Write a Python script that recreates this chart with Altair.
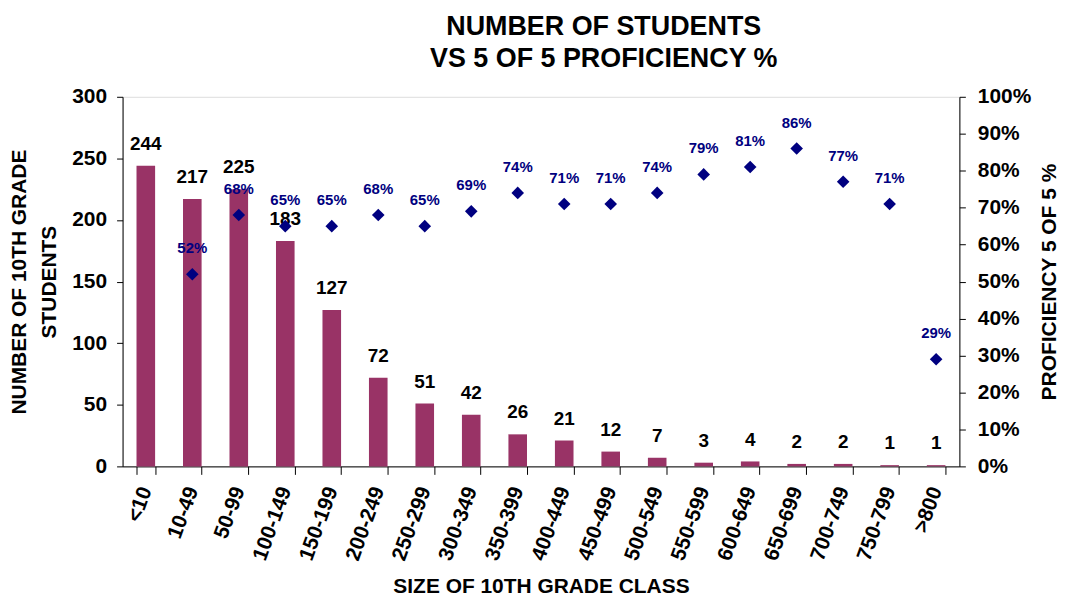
import altair as alt
import pandas as pd

categories = ["<10", "10-49", "50-99", "100-149", "150-199", "200-249", "250-299",
              "300-349", "350-399", "400-449", "450-499", "500-549", "550-599",
              "600-649", "650-699", "700-749", "750-799", ">800"]
students = [244, 217, 225, 183, 127, 72, 51, 42, 26, 21, 12, 7, 3, 4, 2, 2, 1, 1]
proficiency = [None, 0.52, 0.68, 0.65, 0.65, 0.68, 0.65, 0.69, 0.74, 0.71, 0.71,
               0.74, 0.79, 0.81, 0.86, 0.77, 0.71, 0.29]

df = pd.DataFrame({"cat": categories, "students": students, "prof": proficiency})
df["prof_label"] = df["prof"].apply(lambda v: "" if pd.isna(v) else f"{round(v*100)}%")

FONT = "Liberation Sans"

x = alt.X("cat:N", sort=categories, title="SIZE OF 10TH GRADE CLASS",
          scale=alt.Scale(paddingInner=0.6, paddingOuter=0.3),
          axis=alt.Axis(labelAngle=-70, labelAlign="right", labelBaseline="middle",
                        labelFont=FONT, labelFontSize=21, labelFontWeight="bold",
                        labelColor="black", labelPadding=13,
                        tickBand="extent", tickSize=8, tickColor="black",
                        domainColor="black", titleFont=FONT, titleFontSize=21,
                        titleFontWeight="bold", titleColor="black", titlePadding=13))

base = alt.Chart(df).encode(x=x)

y_left = alt.Y("students:Q", scale=alt.Scale(domain=[0, 300], nice=False),
               title=["NUMBER OF 10TH GRADE", "STUDENTS"],
               axis=alt.Axis(values=[0, 50, 100, 150, 200, 250, 300], grid=False,
                             labelFont=FONT, labelFontSize=21, labelFontWeight="bold",
                             labelColor="black", tickColor="black", domainColor="black",
                             tickSize=6, labelPadding=10,
                             titleFont=FONT, titleFontSize=21, titleFontWeight="bold",
                             titleColor="black", titlePadding=12, titleLineHeight=30))

bars = base.mark_bar(color="#993366").encode(y=y_left)
bar_text = base.mark_text(dy=-12, baseline="bottom", font=FONT, fontSize=19,
                          fontWeight="bold", color="black").encode(
    y=y_left, text="students:Q")

y_right = alt.Y("prof:Q", scale=alt.Scale(domain=[0, 1], nice=False),
                title="PROFICIENCY 5 OF 5 %",
                axis=alt.Axis(orient="right", format="%", values=[i / 10 for i in range(11)],
                              grid=False, labelFont=FONT, labelFontSize=21,
                              labelFontWeight="bold", labelColor="black",
                              tickColor="black", domainColor="black", tickSize=6,
                              labelPadding=12, titleFont=FONT, titleFontSize=21,
                              titleFontWeight="bold", titleColor="black", titlePadding=29,
                              titleAngle=270))

pts = base.mark_point(shape="diamond", filled=True, size=160, color="#000080",
                      opacity=1).encode(y=y_right)
pt_text = base.mark_text(dy=-18, baseline="bottom", font=FONT, fontSize=15,
                         fontWeight="bold", color="#000080").encode(
    y=y_right, text="prof_label:N")

left = alt.layer(bars, bar_text)
right = alt.layer(pts, pt_text)

chart = alt.layer(left, right).resolve_scale(y="independent").properties(
    width=840, height=371,
    title=alt.TitleParams(["NUMBER OF STUDENTS", "VS 5 OF 5 PROFICIENCY %"],
                          font=FONT, fontSize=27, fontWeight="bold", color="black",
                          anchor="middle", dx=63, offset=13, lineHeight=32),
).configure_view(stroke=None).configure(padding={"left": 0, "right": 0, "top": 4, "bottom": 0},
                                         background="white")

chart.save("out.html", embed_options={"renderer": "svg", "actions": False})
